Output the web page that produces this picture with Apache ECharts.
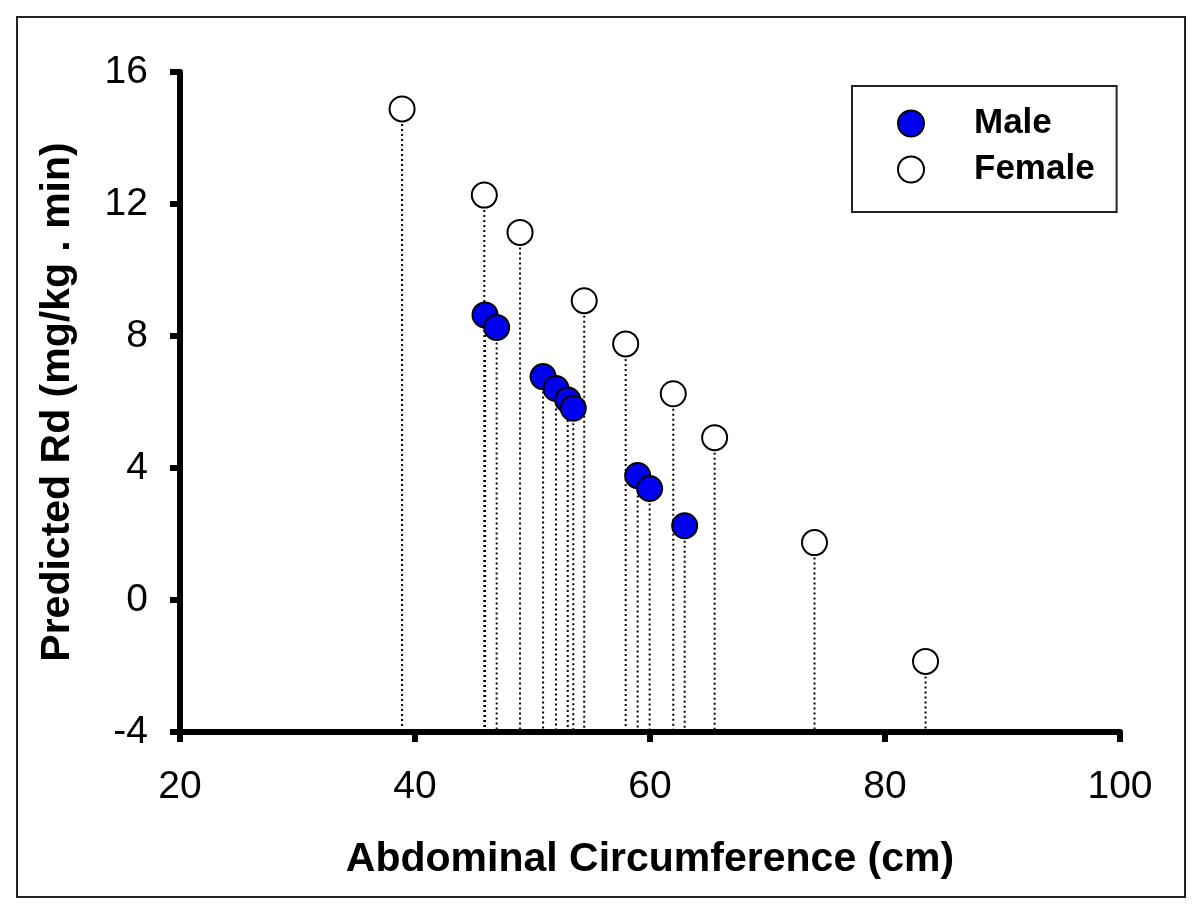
<!DOCTYPE html>
<html>
<head>
<meta charset="utf-8">
<script src="https://cdn.jsdelivr.net/npm/echarts@6/dist/echarts.min.js"></script>
<style>
  html, body { margin: 0; padding: 0; background: #fff; }
  #chart { width: 1200px; height: 911px; }
</style>
</head>
<body>
<div id="chart"></div>
<script>
// ---- data ----
const maleX   = [45.96, 46.95, 50.9, 52.0, 53.0, 53.47, 58.95, 59.97, 62.95];
const maleY   = [8.64, 8.26, 6.77, 6.41, 6.06, 5.81, 3.77, 3.38, 2.25];
const femaleX = [38.9, 45.9, 48.94, 54.4, 57.93, 61.98, 65.5, 74.0, 83.45];
const femaleY = [14.88, 12.27, 11.14, 9.07, 7.76, 6.25, 4.92, 1.74, -1.86];
const xTicks = [20, 40, 60, 80, 100];
const yTicks = [-4, 0, 4, 8, 12, 16];
const seriesNames = ['Male', 'Female'];
const xTitle = 'Abdominal Circumference (cm)';
const yTitle = 'Predicted Rd (mg/kg . min)';

const FONT = 'Arial, "Liberation Sans", Helvetica, sans-serif';
const yMin = yTicks[0], yMax = yTicks[yTicks.length - 1];
const xMin = xTicks[0], xMax = xTicks[xTicks.length - 1];

const pairs = (xs, ys) => xs.map((x, i) => [x, ys[i]]);
const maleData = pairs(maleX, maleY);
const femaleData = pairs(femaleX, femaleY);
const allData = maleData.concat(femaleData);

const chart = echarts.init(document.getElementById('chart'), null, { renderer: 'canvas' });

const axisCommon = {
  type: 'value',
  splitLine: { show: false },
  axisLine: { show: true, onZero: false, lineStyle: { color: '#000', width: 6 } },
  axisTick: { show: true, inside: false, length: 10, lineStyle: { color: '#000', width: 6 } },
  axisLabel: { color: '#000', fontSize: 39, fontFamily: FONT },
  nameTextStyle: { color: '#000', fontSize: 41, fontWeight: 'bold', fontFamily: FONT },
  nameLocation: 'middle'
};

chart.setOption({
  animation: false,
  backgroundColor: '#fff',
  graphic: [{
    type: 'rect',
    shape: { x: 17, y: 17, width: 1168, height: 880 },
    style: { fill: 'none', stroke: '#222', lineWidth: 2 },
    z: -1
  }],
  grid: { left: 180, right: 80, top: 72, bottom: 179, containLabel: false },
  xAxis: Object.assign({}, axisCommon, {
    min: xMin, max: xMax, interval: 20,
    name: xTitle, nameGap: 107,
    axisLabel: Object.assign({}, axisCommon.axisLabel, { margin: 36 })
  }),
  yAxis: Object.assign({}, axisCommon, {
    min: yMin, max: yMax, interval: 4,
    name: yTitle, nameGap: 102, nameRotate: 90,
    axisLabel: Object.assign({}, axisCommon.axisLabel, { margin: 32 })
  }),
  legend: {
    data: seriesNames,
    orient: 'vertical',
    left: 852, top: 86,
    padding: [20, 22, 25, 45],
    itemWidth: 26, itemHeight: 26, itemGap: 11,
    borderColor: '#222', borderWidth: 2,
    backgroundColor: '#fff',
    icon: 'circle',
    textStyle: { color: '#000', fontSize: 35, fontWeight: 'bold', fontFamily: FONT, padding: [0, 0, 0, 45] }
  },
  series: [
    {
      name: 'drop',
      type: 'custom',
      z: 1,
      silent: true,
      data: allData,
      renderItem: function (params, api) {
        const top = api.coord([api.value(0), api.value(1)]);
        const bot = api.coord([api.value(0), yMin]);
        return {
          type: 'line',
          shape: { x1: top[0], y1: top[1], x2: bot[0], y2: bot[1] },
          style: { stroke: '#000', lineWidth: 2, lineDash: [2, 3] }
        };
      }
    },
    {
      name: seriesNames[1],
      type: 'scatter',
      z: 2,
      symbol: 'circle',
      symbolSize: 25,
      data: femaleData,
      itemStyle: { color: '#ffffff', borderColor: '#000', borderWidth: 2, opacity: 1 }
    },
    {
      name: seriesNames[0],
      type: 'scatter',
      z: 3,
      symbol: 'circle',
      symbolSize: 25,
      data: maleData,
      itemStyle: { color: '#0000f0', borderColor: '#000', borderWidth: 2, opacity: 1 }
    }
  ]
});
</script>
</body>
</html>
